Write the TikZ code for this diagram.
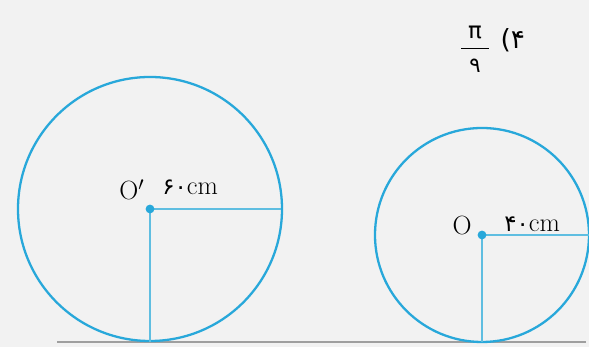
\documentclass[tikz,border=0pt]{standalone}
\usepackage{fontspec}
\usepackage{amsmath}
\newfontfamily\fafont{DejaVu Sans}
\definecolor{rim}{RGB}{40,168,218}
\definecolor{spoke}{RGB}{95,190,225}
\definecolor{paper}{RGB}{242,242,242}
\usetikzlibrary{positioning}

\begin{document}
\begin{tikzpicture}[x=.02cm,y=.02cm,
    rimline/.style={rim,line width=1.3pt},
    spokeline/.style={spoke,line width=1pt},
    hub/.style={circle,fill=rim,inner sep=0pt,minimum size=5pt},
    lbl/.style={inner sep=0pt,font=\fontsize{15}{18}\selectfont}]
    \fill[paper] (0,0) rectangle (589,347);
    \useasboundingbox (0,0) rectangle (589,347);

    % ground
    \coordinate (gl) at (57,5);
    \coordinate (gr) at (586,5);
    \draw[gray!75,line width=1.2pt] (gl) -- (gr);

    % big wheel
    \coordinate (Ob) at (150,138);
    \coordinate (Rb) at (281,138);
    \coordinate (Fb) at (150,5);
    \draw[rimline] (Ob) circle[radius=132];
    \draw[spokeline] (Ob) -- (Rb);
    \draw[spokeline] (Ob) -- (Fb);
    \node[hub] (hb) at (Ob) {};
    \node[lbl] (nb) at (132,157) {O$'$};
    \node[lbl,anchor=west] (rb) at (162,160) {{\fafont\fontsize{13}{15}\selectfont ۶۰}cm};

    % small wheel
    \coordinate (Os) at (482,112);
    \coordinate (Rs) at (589,112);
    \coordinate (Fs) at (482,5);
    \draw[rimline] (Os) circle[radius=107];
    \draw[spokeline] (Os) -- (Rs);
    \draw[spokeline] (Os) -- (Fs);
    \node[hub] (hs) at (Os) {};
    \node[lbl] (ns) at (462,121) {O};
    \node[lbl,anchor=west] (rs) at (504,123) {{\fafont\fontsize{13}{15}\selectfont ۴۰}cm};

    % answer
    \node[lbl] (fr) at (475,298) {$\dfrac{\;\text{\fafont\fontsize{13}{15}\selectfont π}\;}{\text{\fafont\fontsize{12}{14}\selectfont ۹}}$};
    \node[lbl,right=5pt of fr.east,yshift=5pt] (op) {\fafont\fontsize{15}{17}\selectfont (۴};
\end{tikzpicture}
\end{document}
